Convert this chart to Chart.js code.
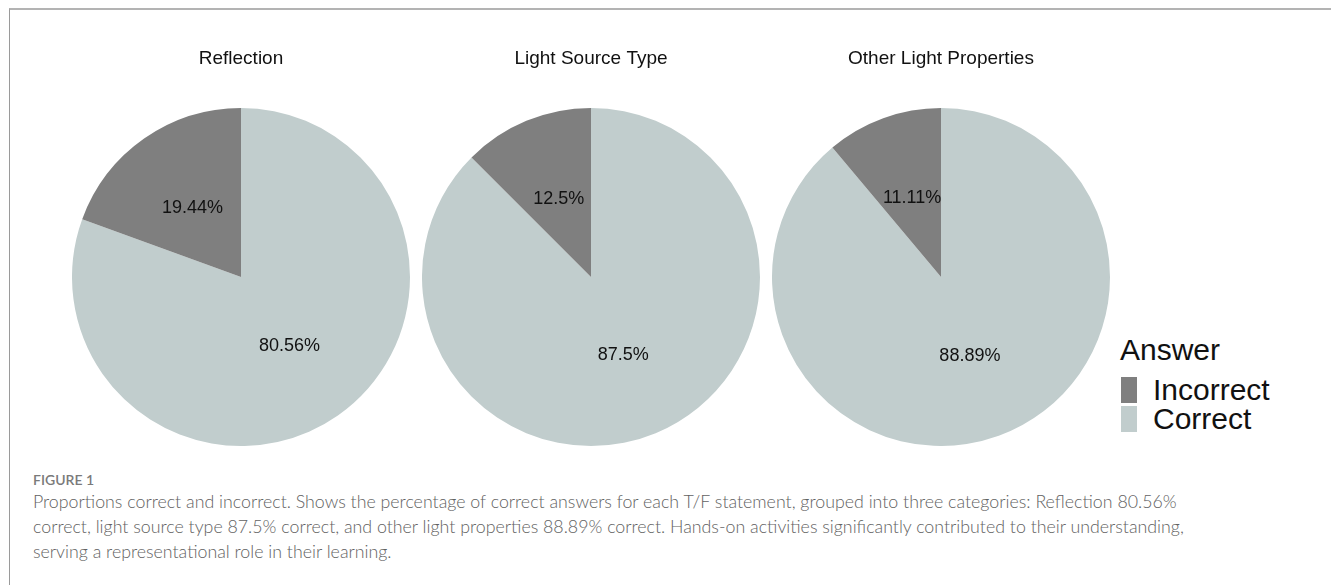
<!DOCTYPE html>
<html>
<head>
<meta charset="utf-8">
<script src="https://cdn.jsdelivr.net/npm/chart.js@4.4.1/dist/chart.umd.min.js"></script>
<style>
  html, body { margin: 0; padding: 0; background: #fff; }
  body { width: 1331px; height: 585px; position: relative; overflow: hidden; font-family: "Liberation Sans", Arial, sans-serif; }
  #frame { position: absolute; left: 9px; top: 8px; right: -10px; bottom: -10px; border-top: 2px solid #b3b3b3; border-left: 1px solid #9a9a9a; }
  .pie { position: absolute; top: 40px; }
  #legend { position: absolute; left: 1120px; top: 335px; color: #111; }
  #legend .ttl { font-size: 30px; line-height: 30px; height: 40px; }
  #legend .item { position: relative; height: 29px; }
  #legend .key { position: absolute; left: 1px; top: 2px; width: 16px; height: 26px; }
  #legend .lbl { position: absolute; left: 33px; top: 0px; font-size: 30px; line-height: 30px; white-space: nowrap; }
  #caption { position: absolute; left: 33px; top: 471px; font-family: Lato, "Open Sans", sans-serif; color: #626262; }
  #caption .fig { font-size: 14px; font-weight: 600; color: #7a7a7a; line-height: 18px; }
  #caption .txt { font-size: 17.8px; font-weight: 300; line-height: 25px; white-space: nowrap; }
</style>
</head>
<body>
<div id="frame"></div>
<canvas id="pie0" class="pie" width="338" height="406" style="left:72px"></canvas>
<canvas id="pie1" class="pie" width="338" height="406" style="left:422px"></canvas>
<canvas id="pie2" class="pie" width="338" height="406" style="left:772px"></canvas>
<div id="legend"></div>
<div id="caption">
  <div class="fig">FIGURE 1</div>
  <div class="txt">Proportions correct and incorrect. Shows the percentage of correct answers for each T/F statement, grouped into three categories: Reflection 80.56%<br>correct, light source type 87.5% correct, and other light properties 88.89% correct. Hands-on activities significantly contributed to their understanding,<br>serving a representational role in their learning.</div>
</div>
<script>
// percentages per statement group
const categories = ["Reflection", "Light Source Type", "Other Light Properties"];
const correct = [80.56, 87.5, 88.89];
const incorrect = [19.44, 12.5, 11.11];
const answers = ["Correct", "Incorrect"];
const answerColors = ["#C1CDCD", "#7F7F7F"];
const legendOrder = ["Incorrect", "Correct"];

// write the slice value in the middle of each wedge
const sliceLabels = {
    id: "sliceLabels",
    afterDatasetsDraw(chart) {
        const ctx = chart.ctx;
        const meta = chart.getDatasetMeta(0);
        ctx.save();
        ctx.font = "18px 'Liberation Sans', Arial, sans-serif";
        ctx.fillStyle = "#111";
        ctx.textAlign = "center";
        ctx.textBaseline = "middle";
        meta.data.forEach(function (arc, i) {
            const pos = arc.tooltipPosition();
            ctx.fillText(chart.data.datasets[0].data[i] + "%", pos.x, pos.y);
        });
        ctx.restore();
    }
};

categories.forEach(function (name, k) {
    new Chart(document.getElementById("pie" + k), {
        type: "pie",
        data: {
            labels: answers,
            datasets: [{
                data: [correct[k], incorrect[k]],
                backgroundColor: answerColors,
                borderWidth: 0,
                hoverOffset: 0,
                offset: 0
            }]
        },
        options: {
            responsive: false,
            animation: false,
            events: [],
            layout: { padding: 0 },
            plugins: {
                title: {
                    display: true,
                    text: name,
                    color: "#111",
                    font: { family: "'Liberation Sans', Arial, sans-serif", size: 19, weight: "normal" },
                    padding: { top: 7, bottom: 38.2 }
                },
                legend: { display: false },
                tooltip: { enabled: false }
            }
        },
        plugins: [sliceLabels]
    });
});

// shared legend for the three pies
let html = '<div class="ttl">Answer</div>';
legendOrder.forEach(function (a) {
    const c = answerColors[answers.indexOf(a)];
    html += '<div class="item"><div class="key" style="background:' + c + '"></div><div class="lbl">' + a + '</div></div>';
});
document.getElementById("legend").innerHTML = html;
</script>
</body>
</html>
